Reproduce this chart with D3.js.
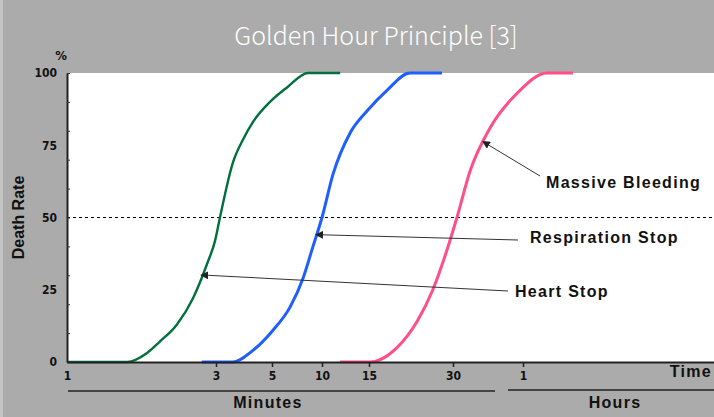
<!DOCTYPE html>
<html>
<head>
<meta charset="utf-8">
<script src="https://cdn.jsdelivr.net/npm/d3@7"></script>
<style>
  body { margin: 0; background: #ababab; }
  svg { display: block; }
  .tick-lbl { font-family: "DejaVu Sans Condensed", "Liberation Sans Narrow", sans-serif; font-stretch: condensed; font-weight: bold; font-size: 12px; fill: #111; }
  .lbl { font-family: "Liberation Sans", Arial, sans-serif; font-weight: bold; font-size: 16px; letter-spacing: 1.3px; fill: #111; }
</style>
</head>
<body>
<div id="chart"></div>
<script>
// time axis (minutes), uneven like the original drawing
const timeStops = [1, 3, 5, 10, 15, 30, 60, 360];
const timeTicks = [1, 3, 5, 10, 15, 30, 60];
const timeTickLabels = ["1", "3", "5", "10", "15", "30", "1"];

const rateTicks = [0, 10, 20, 30, 40, 50, 60, 70, 80, 90, 100];
const rateLabels = [0, 25, 50, 75, 100];

// curves: minutes -> death rate (%)
const heartMin = [1, 1.56, 1.8, 1.98, 2.25, 2.53, 2.81, 2.98, 3.11, 3.5, 3.84, 4.2, 4.91, 6.16, 8.24, 11.7];
const heartRate = [0, 0, 3, 7, 13, 22, 34, 42, 50, 69, 77, 83, 90, 95, 100, 100];
const respMin = [2.7, 3.5, 4.2, 5.07, 6.42, 7.69, 8.83, 10, 11, 12.7, 14.8, 17.4, 21, 27.4];
const respRate = [0, 0, 4, 11, 19, 29, 40, 50, 65, 79, 87, 94, 100, 100];
const bleedMin = [11.7, 15.1, 18.9, 22.3, 25.4, 28.6, 31.2, 35.5, 43.3, 56.6, 75.2, 95.9];
const bleedRate = [0, 0, 5, 14, 25, 39, 50, 66, 81, 93, 100, 100];

const noteLabels = ["Massive Bleeding", "Respiration Stop", "Heart Stop"];
const noteMin = [42.4, 10, 2.81];
const noteRate = [75, 44, 30];

const W = 714, H = 417;
const margin = {top: 73, right: 0, bottom: 55, left: 67},
      width = W - margin.left - margin.right,
      height = H - margin.top - margin.bottom;

const svg = d3.select("#chart").append("svg")
    .attr("width", W)
    .attr("height", H);

svg.append("rect").attr("width", W).attr("height", H).attr("fill", "#ababab");
svg.append("rect").attr("width", 3).attr("height", H).attr("fill", "#c4c4c4");

svg.append("text")
    .attr("x", 376).attr("y", 45)
    .attr("text-anchor", "middle")
    .attr("fill", "#fff")
    .style("font-family", "'Noto Sans CJK JP', 'Noto Sans', sans-serif")
    .style("font-weight", 300)
    .style("font-size", "25px")
    .text("Golden Hour Principle [3]");

const g = svg.append("g").attr("transform", `translate(${margin.left},${margin.top})`);

g.append("rect").attr("width", width).attr("height", height).attr("fill", "#fff");

const x = d3.scaleLog()
    .domain(timeStops)
    .range([0, 149, 205, 255, 302, 386, 456, width]);

const y = d3.scaleLinear().domain([0, 100]).range([height, 0]);

// 50% line
g.append("line")
    .attr("x1", 0).attr("x2", width)
    .attr("y1", y(50)).attr("y2", y(50))
    .attr("stroke", "#000").attr("stroke-width", 1)
    .attr("stroke-dasharray", "3,3");

const series = [
    {min: heartMin, rate: heartRate, color: "#00703c", w: 2.4},
    {min: respMin, rate: respRate, color: "#1f5eff", w: 3},
    {min: bleedMin, rate: bleedRate, color: "#ff4f88", w: 3}
];

const line = d3.line()
    .x(d => x(d[0]))
    .y(d => y(d[1]))
    .curve(d3.curveMonotoneX);

g.selectAll(".curve")
    .data(series)
    .enter().append("path")
    .attr("class", "curve")
    .attr("fill", "none")
    .attr("stroke", d => d.color)
    .attr("stroke-width", d => d.w)
    .attr("stroke-linejoin", "round")
    .attr("d", d => line(d.min.map((m, i) => [m, d.rate[i]])));

// y axis: small inward ticks + labels
const yTickAxis = g.append("g")
    .call(d3.axisLeft(y).tickValues(rateTicks).tickSizeInner(-3).tickSizeOuter(0).tickFormat(""));
yTickAxis.select(".domain").attr("stroke", "#222").attr("stroke-width", 2);
yTickAxis.selectAll(".tick line").attr("stroke", "#333");

const yLblAxis = g.append("g")
    .call(d3.axisLeft(y).tickValues(rateLabels).tickSize(0).tickPadding(10));
yLblAxis.select(".domain").remove();
yLblAxis.selectAll("text").attr("class", "tick-lbl").attr("font-family", null).attr("font-size", null);

g.append("text")
    .attr("class", "tick-lbl")
    .attr("x", -6).attr("y", -13)
    .attr("text-anchor", "middle")
    .style("font-size", "13px")
    .text("%");

// x axis
const xAxis = g.append("g")
    .attr("transform", `translate(0,${height})`)
    .call(d3.axisBottom(x).tickValues(timeTicks).tickSizeInner(5).tickSizeOuter(0).tickPadding(4)
        .tickFormat((d, i) => timeTickLabels[i]));
xAxis.select(".domain").attr("stroke", "#222").attr("stroke-width", 2);
xAxis.selectAll(".tick line").attr("stroke", "#222").attr("stroke-width", 1.5);
xAxis.selectAll(".tick").filter(d => d === 1).select("line").remove();
xAxis.selectAll("text").attr("class", "tick-lbl").attr("font-family", null).attr("font-size", null);

// unit groups under the axis
g.append("line")
    .attr("x1", 1).attr("x2", 428)
    .attr("y1", height + 29).attr("y2", height + 29)
    .attr("stroke", "#444").attr("stroke-width", 2);
g.append("line")
    .attr("x1", 441).attr("x2", width)
    .attr("y1", height + 28).attr("y2", height + 28)
    .attr("stroke", "#444").attr("stroke-width", 2);

g.append("text").attr("class", "lbl")
    .attr("x", 201).attr("y", height + 46)
    .attr("text-anchor", "middle")
    .text("Minutes");
g.append("text").attr("class", "lbl")
    .attr("x", 548).attr("y", height + 46)
    .attr("text-anchor", "middle")
    .text("Hours");
g.append("text").attr("class", "lbl")
    .attr("x", width - 2).attr("y", height + 15)
    .attr("text-anchor", "end")
    .text("Time");

svg.append("text").attr("class", "lbl")
    .attr("transform", `translate(24,${margin.top + y(50)}) rotate(-90)`)
    .attr("text-anchor", "middle")
    .style("letter-spacing", "0px")
    .text("Death Rate");

// annotations
svg.append("defs").append("marker")
    .attr("id", "head")
    .attr("viewBox", "0 0 10 10")
    .attr("refX", 0).attr("refY", 5)
    .attr("markerWidth", 8).attr("markerHeight", 8)
    .attr("markerUnits", "userSpaceOnUse")
    .attr("orient", "auto-start-reverse")
    .append("path").attr("d", "M0,0L10,5L0,10Z").attr("fill", "#222");

const notePos = [
    {tx: 479, ty: 115, lx: 473, ly: 103},
    {tx: 463, ty: 170, lx: 451, ly: 167},
    {tx: 448, ty: 224, lx: 441, ly: 218}
];

noteLabels.forEach((lab, i) => {
    const p = notePos[i];
    g.append("line")
        .attr("x1", x(noteMin[i]) + 1).attr("y1", y(noteRate[i]))
        .attr("x2", p.lx).attr("y2", p.ly)
        .attr("stroke", "#333").attr("stroke-width", 1)
        .attr("marker-start", "url(#head)");
    g.append("text").attr("class", "lbl")
        .attr("x", p.tx).attr("y", p.ty)
        .text(lab);
});
</script>
</body>
</html>
